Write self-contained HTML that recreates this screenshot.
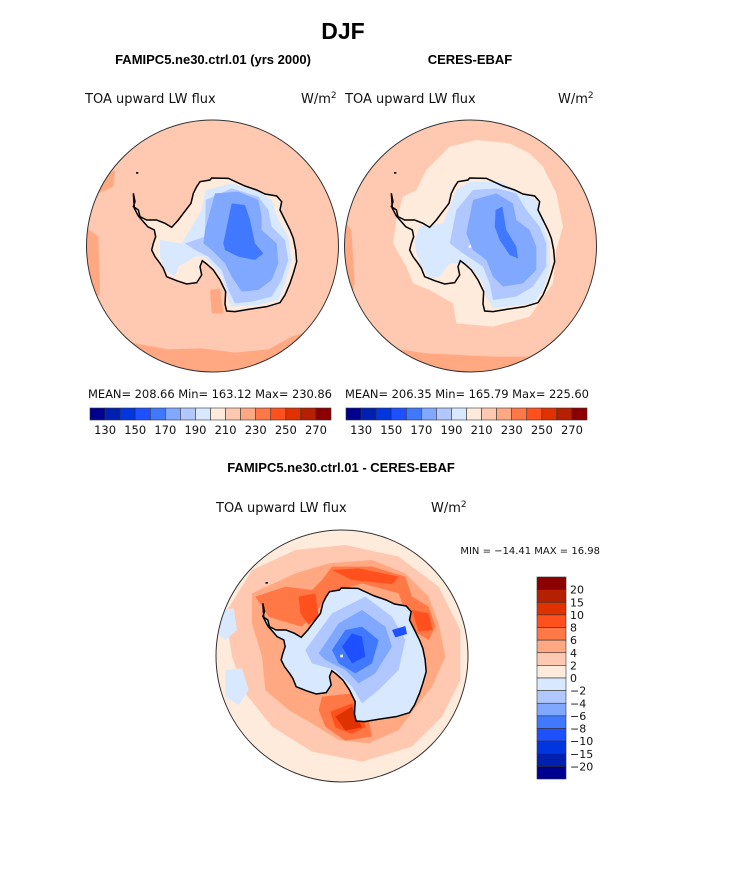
<!DOCTYPE html>
<html><head><meta charset="utf-8">
<style>
html,body{margin:0;padding:0;background:#fff;}
body{width:733px;height:882px;overflow:hidden;position:relative;font-family:"Liberation Sans",sans-serif;}
svg{position:absolute;left:0;top:0;}
.thin{font-family:"DejaVu Sans","Liberation Sans",sans-serif;font-weight:normal;fill:#111;}
</style></head>
<body>
<svg id="fig" width="733" height="882" viewBox="0 0 733 882">
<defs>
  <clipPath id="c1"><circle cx="382.5" cy="408" r="378"/></clipPath>
  <clipPath id="c3"><circle cx="390" cy="378" r="378"/></clipPath>
  <path id="coast" d="M145,250 L150,275 L145,290 L160,300 L165,320 L185,330 L215,330 L240,340 L260,352 L280,330 L295,310 L318,280 L325,250 L335,230 L345,215 L375,210 L380,204 L430,205 L480,228 L515,240 L540,252 L575,258 L590,275 L585,300 L600,330 L615,360 L625,385 L632,420 L635,455 L625,490 L615,520 L600,555 L585,578 L545,590 L490,598 L450,605 L425,603 L420,582 L422,545 L405,510 L385,480 L365,462 L352,452 L345,470 L350,495 L335,518 L305,522 L275,512 L245,500 L235,475 L225,460 L210,440 L200,420 L205,400 L212,380 L208,360 L188,350 L175,335 L160,318 L148,295 Z"/>
</defs>

<text x="343" y="39" text-anchor="middle" font-size="23" font-weight="bold">DJF</text>
<text x="213" y="64" text-anchor="middle" font-size="13" font-weight="bold">FAMIPC5.ne30.ctrl.01 (yrs 2000)</text>
<text x="470" y="64" text-anchor="middle" font-size="13" font-weight="bold">CERES-EBAF</text>
<text class="thin" x="85" y="103" font-size="13">TOA upward LW flux</text>
<text class="thin" x="301" y="103" font-size="13">W/m<tspan dy="-5" font-size="9">2</tspan></text>
<text class="thin" x="345" y="103" font-size="13">TOA upward LW flux</text>
<text class="thin" x="558" y="103" font-size="13">W/m<tspan dy="-5" font-size="9">2</tspan></text>
<text x="341" y="472" text-anchor="middle" font-size="13" font-weight="bold">FAMIPC5.ne30.ctrl.01 - CERES-EBAF</text>
<text class="thin" x="216" y="512" font-size="13">TOA upward LW flux</text>
<text class="thin" x="431" y="512" font-size="13">W/m<tspan dy="-5" font-size="9">2</tspan></text>
<text class="thin" x="600" y="554" font-size="10" text-anchor="end">MIN = −14.41 MAX =  16.98</text>

<g transform="translate(85,110) scale(0.33333)">
 <g clip-path="url(#c1)">
  <rect x="0" y="0" width="770" height="800" fill="#FFC8B0"/>
  <path fill="#FFA882" d="M0,620 L60,680 L150,700 L250,718 L350,715 L450,728 L550,718 L620,680 L700,655 L770,640 L770,800 L0,800 Z"/>
  <path fill="#FFA882" d="M0,350 L40,380 L45,550 L0,610 Z"/>
  <path fill="#FFA882" d="M40,210 L90,180 L85,230 L40,250 Z"/>
  <path fill="#FFA882" d="M375,540 L405,535 L415,610 L380,610 Z"/>
  <use href="#coast" fill="#FFEBDC"/>
  <path fill="#D8E8FF" d="M225,390 L290,400 L350,300 L362,240 L440,220 L520,245 L560,270 L580,330 L610,380 L620,450 L600,520 L580,570 L520,585 L440,590 L430,570 L410,500 L360,440 L330,440 L280,470 L270,500 L240,480 L225,440 Z"/>
  <path fill="#B0C8FF" d="M300,400 L360,380 L362,270 L440,235 L520,260 L550,300 L560,350 L600,390 L610,450 L590,510 L560,560 L500,575 L450,580 L430,540 L410,480 L370,440 L330,420 Z"/>
  <path fill="#80A8FF" d="M360,360 L390,250 L460,245 L520,270 L530,320 L530,360 L575,400 L580,460 L560,510 L520,540 L470,545 L440,500 L420,460 L380,420 L355,400 Z"/>
  <path fill="#4078FF" d="M415,400 L440,280 L480,285 L495,330 L510,400 L535,430 L510,450 L460,440 L420,420 Z"/>
  <use href="#coast" fill="none" stroke="#000" stroke-width="4.5"/>
  <rect x="153" y="186" width="7" height="5" fill="#000"/>
 </g>
 <circle cx="382.5" cy="408" r="378" fill="none" stroke="#333" stroke-width="3"/>
</g>

<g transform="translate(343,110) scale(0.33333)">
 <g clip-path="url(#c1)">
  <rect x="0" y="0" width="770" height="800" fill="#FFC8B0"/>
  <path fill="#FFA882" d="M0,330 L25,360 L35,520 L20,600 L60,690 L150,715 L250,730 L350,735 L450,740 L770,740 L770,800 L0,800 Z"/>
  <path fill="#FFEBDC" d="M220,240 L250,180 L320,110 L400,90 L500,100 L560,130 L600,170 L640,250 L660,350 L640,420 L630,520 L560,620 L450,650 L340,640 L330,580 L260,540 L210,520 L190,470 L150,400 L160,330 L180,260 Z"/>
  <path fill="#FFC8B0" d="M530,330 L575,335 L590,380 L560,380 Z"/>
  <use href="#coast" fill="#FFEBDC"/>
  <path fill="#D8E8FF" d="M215,390 L230,350 L300,340 L340,240 L380,215 L470,215 L540,250 L580,270 L600,340 L620,400 L622,470 L600,540 L570,580 L450,595 L430,560 L415,510 L370,460 L320,460 L290,500 L260,505 L235,470 L220,430 Z"/>
  <path fill="#B0C8FF" d="M340,300 L390,240 L460,235 L520,250 L550,300 L590,350 L610,400 L610,470 L570,530 L520,560 L450,570 L440,520 L420,470 L360,430 L320,400 Z"/>
  <path fill="#80A8FF" d="M390,270 L460,250 L510,280 L520,330 L560,360 L580,410 L580,480 L540,520 L480,530 L450,500 L430,450 L390,420 L370,370 Z"/>
  <path fill="#4078FF" d="M458,300 L478,290 L490,360 L520,410 L525,445 L500,435 L470,390 L455,350 Z"/>
  <use href="#coast" fill="none" stroke="#000" stroke-width="4.5"/>
  <rect x="153" y="186" width="7" height="5" fill="#000"/>
  <rect x="377" y="406" width="7" height="7" fill="#fff"/>
 </g>
 <circle cx="382.5" cy="408" r="378" fill="none" stroke="#333" stroke-width="3"/>
</g>

<g transform="translate(212,530) scale(0.33333)">
 <g clip-path="url(#c3)">
  <rect x="0" y="0" width="780" height="780" fill="#FFEBDC"/>
  <path fill="#FFC8B0" d="M40,250 L120,120 L250,60 L400,45 L560,80 L680,170 L745,300 L745,450 L690,560 L600,650 L450,695 L300,665 L180,590 L100,490 L60,380 Z"/>
  <path fill="#D8E8FF" d="M20,240 L65,235 L75,300 L40,330 L15,310 Z"/>
  <path fill="#D8E8FF" d="M40,420 L90,415 L110,480 L80,525 L40,500 Z"/>
  <path fill="#FFA882" d="M120,190 L250,130 L350,100 L480,90 L580,130 L650,200 L680,280 L700,380 L660,470 L620,520 L560,600 L470,640 L380,630 L300,580 L230,540 L160,480 L150,380 L120,280 Z"/>
  <path fill="#FF7846" d="M130,200 L220,170 L300,180 L330,150 L360,110 L480,110 L580,140 L600,200 L650,230 L670,290 L650,330 L600,300 L560,190 L450,160 L350,190 L310,250 L270,290 L200,270 L170,260 Z"/>
  <path fill="#FF7846" d="M330,500 L420,490 L470,570 L480,620 L400,632 L340,590 L320,540 Z"/>
  <path fill="#FF501E" d="M260,200 L310,190 L320,260 L290,285 L265,250 Z"/>
  <path fill="#FF501E" d="M600,240 L650,250 L662,300 L620,305 Z"/>
  <path fill="#FF501E" d="M360,120 L440,115 L560,140 L540,162 L420,150 Z"/>
  <path fill="#FF501E" d="M355,545 L420,520 L462,590 L420,612 L370,592 Z"/>
  <path fill="#E03200" d="M370,560 L420,530 L450,592 L400,602 Z"/>
  <g transform="translate(7.5,-30)">
   <use href="#coast" fill="#D8E8FF"/>
  </g>
  <path fill="#B0C8FF" d="M280,360 L360,250 L460,200 L540,260 L580,330 L560,420 L500,480 L450,520 L420,470 L370,420 L300,400 Z"/>
  <path fill="#80A8FF" d="M320,370 L380,280 L450,240 L520,290 L540,350 L490,430 L440,460 L400,420 L340,390 Z"/>
  <path fill="#4078FF" d="M360,360 L400,300 L450,290 L500,330 L480,400 L430,430 L380,400 Z"/>
  <path fill="#1E50FF" d="M390,350 L420,310 L450,320 L460,380 L420,400 Z"/>
  <path fill="#1E50FF" d="M540,300 L580,288 L585,312 L550,322 Z"/>
  <rect x="385" y="374" width="8" height="8" fill="#fff"/>
  <g transform="translate(7.5,-30)">
   <use href="#coast" fill="none" stroke="#000" stroke-width="4.5"/>
   <rect x="153" y="186" width="7" height="5" fill="#000"/>
  </g>
 </g>
 <circle cx="390" cy="378" r="378" fill="none" stroke="#333" stroke-width="3"/>
</g>

<text class="thin" x="88" y="398" font-size="11.5" textLength="244">MEAN= 208.66   Min= 163.12   Max= 230.86</text>
<text class="thin" x="345" y="398" font-size="11.5" textLength="244">MEAN= 206.35   Min= 165.79   Max= 225.60</text>
<g id="bars"></g>
</svg>
<script>
const colors = ["#000090","#0020B0","#0035E0","#1E50FF","#4078FF","#80A8FF","#B0C8FF","#D8E8FF","#FFEBDC","#FFC8B0","#FFA882","#FF7846","#FF501E","#E03200","#B42000","#8C0000"];
const absLevels = [130,140,150,160,170,180,190,200,210,220,230,240,250,260,270];
const absTickLabels = ["130","150","170","190","210","230","250","270"];
const diffLevels = ["−20","−15","−10","−8","−6","−4","−2","0","2","4","6","8","10","15","20"];

const NS = "http://www.w3.org/2000/svg";
const bars = document.getElementById("bars");
function mk(tag, attrs){const e=document.createElementNS(NS,tag);for(const k in attrs)e.setAttribute(k,attrs[k]);return e;}

function hbar(x0, name){
  const w = 241/colors.length;
  const g = mk("g",{});
  
  
  colors.forEach((c,i)=>{
    const r = mk("rect",{x:x0+i*w,y:408,width:w,height:12,fill:c,stroke:"#333","stroke-width":0.6});
    
    
    g.appendChild(r);
  });
  absLevels.forEach((v,i)=>{
    const lbl = String(v);
    if(absTickLabels.indexOf(lbl)<0) return;
    const t = mk("text",{x:x0+(i+1)*w,y:434,"text-anchor":"middle","font-size":11.5,class:"thin"});
    
    
    t.textContent = lbl;
    g.appendChild(t);
  });
  bars.appendChild(g);
}
hbar(90, 'model-colorbar');
hbar(346, 'obs-colorbar');

(function(){
  const h = 202/colors.length, y0 = 577, x0 = 537;
  const g = mk("g",{});
  
  
  const rev = colors.slice().reverse();
  rev.forEach((c,i)=>{
    const r = mk("rect",{x:x0,y:y0+i*h,width:29,height:h,fill:c,stroke:"#333","stroke-width":0.6});
    
    
    g.appendChild(r);
  });
  const rl = diffLevels.slice().reverse();
  rl.forEach((v,i)=>{
    const t = mk("text",{x:570,y:y0+(i+1)*h+4,"font-size":11,class:"thin"});
    
    
    t.textContent = v;
    g.appendChild(t);
  });
  bars.appendChild(g);
})();
</script>
</body></html>
